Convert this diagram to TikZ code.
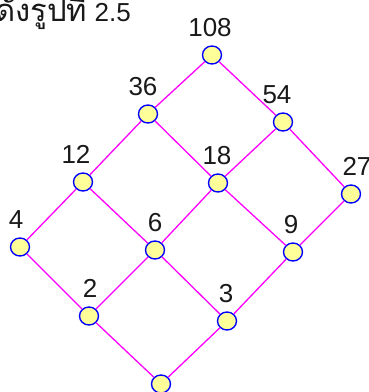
\documentclass[tikz,border=0pt]{standalone}
\usepackage{fontspec}
\setmainfont{Liberation Sans}
\newfontfamily\thaifont[Script=Thai]{Loma}
\usetikzlibrary{shapes.geometric}

\definecolor{knotfill}{HTML}{FFFF99}
\definecolor{knotline}{HTML}{0000FF}
\definecolor{kante}{HTML}{FF00FF}

\tikzset{
    knot/.style={ellipse, draw=knotline, fill=knotfill, line width=1.4pt,
        minimum width=19pt, minimum height=18pt, inner sep=0pt},
    kant/.style={draw=kante, line width=1.3pt},
    every label/.style={font=\fontsize{26}{30}\selectfont, text=black!90},
    label distance=5pt
}

\begin{document}
\begin{tikzpicture}[x=1pt,y=-1pt]
    \useasboundingbox (0,0) rectangle (368,392);
    \node[anchor=base east, inner sep=0pt, font=\fontsize{26}{30}\selectfont, text=black!90] (titel) at (131,21) {{\thaifont\fontsize{31}{34}\selectfont ดังรูปที่} 2.5};
    \path node[knot, label={[xshift=-2pt]above:108}] (n108) at (212,55) {}
        node[knot, label={[xshift=-5pt]above:36}] (n36) at (148,114) {}
        node[knot, label={[xshift=-6pt]above:54}] (n54) at (283,122) {}
        node[knot, label={[xshift=-7pt]above:12}] (n12) at (83,182) {}
        node[knot, label={[xshift=-1pt]above:18}] (n18) at (218,183) {}
        node[knot, label={[xshift=6pt]above:27}] (n27) at (351,194) {}
         node[knot, label={[xshift=-4pt]above:4}] (n4) at (20,247) {}
         node[knot, label=above:6] (n6) at (155,250) {}
        node[knot, label={[xshift=-2pt]above:9}] (n9) at (293,252) {}
        node[knot, label={[xshift=1pt]above:2}] (n2) at (89,316) {}
         node[knot, label={[xshift=-1pt]above:3}] (n3) at (227,321) {}
        node[knot] (n1) at (161,384) {};
       \draw[kant] (n108) -- (n36);
        \draw[kant] (n108) -- (n54);
        \draw[kant] (n36) -- (n12);
        \draw[kant] (n36) -- (n18);
        \draw[kant] (n54) -- (n18);
        \draw[kant] (n54) -- (n27);
        \draw[kant] (n12) -- (n4);
        \draw[kant] (n12) -- (n6);
        \draw[kant] (n18) -- (n6);
        \draw[kant] (n18) -- (n9);
        \draw[kant] (n27) -- (n9);
        \draw[kant] (n4) -- (n2);
        \draw[kant] (n6) -- (n2);
        \draw[kant] (n6) -- (n3);
        \draw[kant] (n9) -- (n3);
        \draw[kant] (n2) -- (n1);
        \draw[kant] (n3) -- (n1);
    \end{tikzpicture}
\end{document}
